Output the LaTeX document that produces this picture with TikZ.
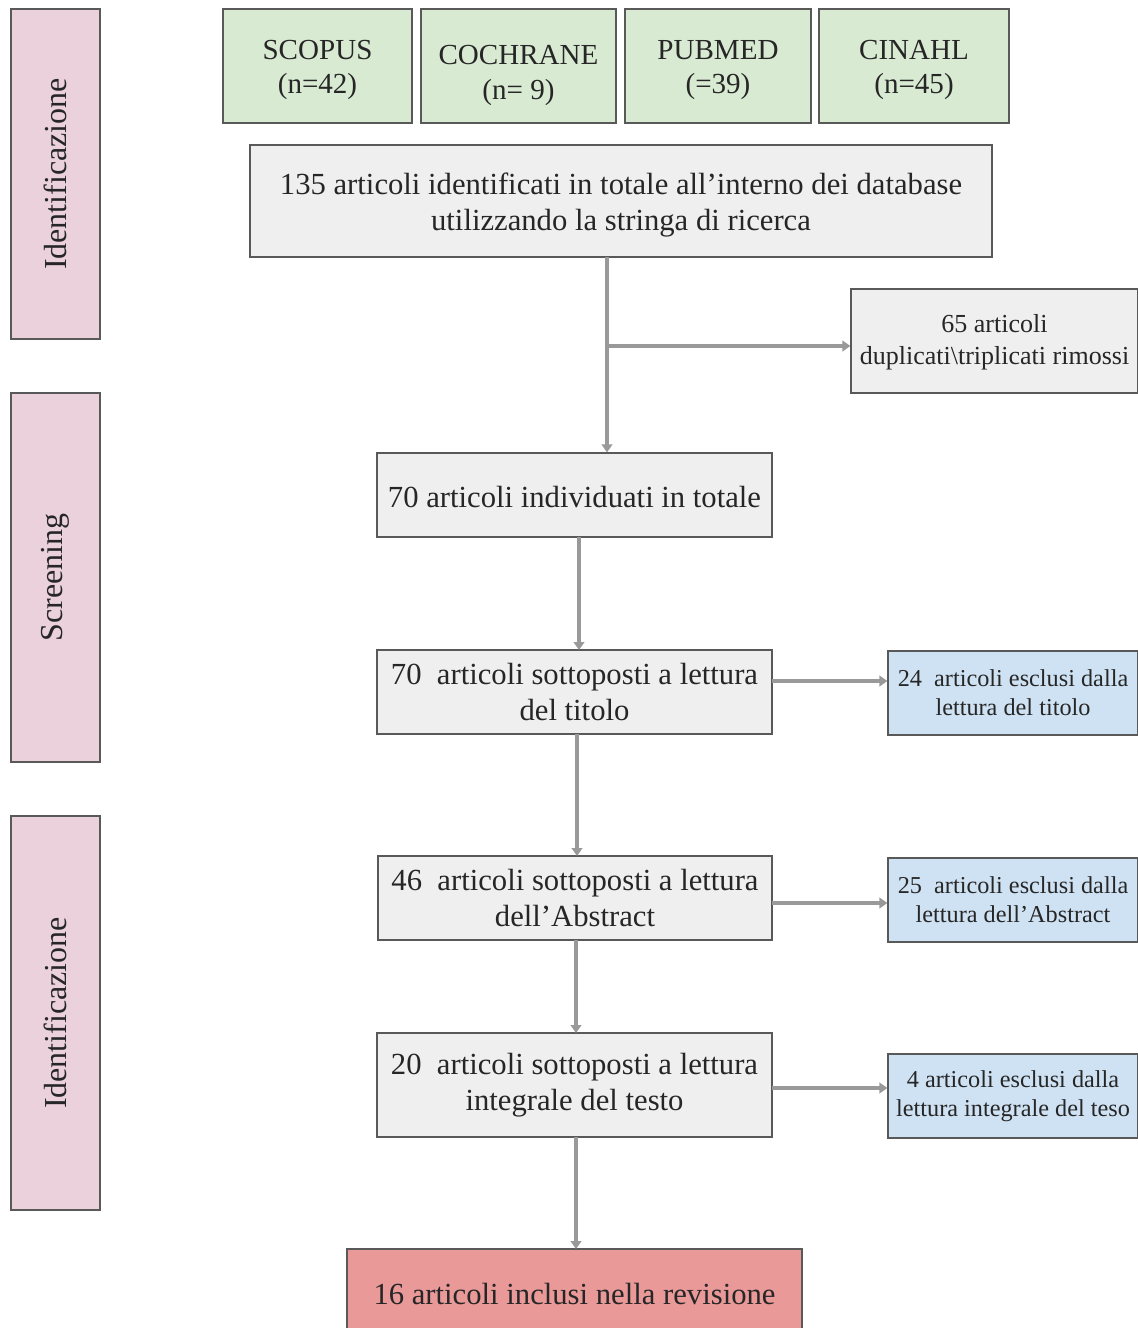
\documentclass[tikz,border=0pt]{standalone}
\usepackage{fontspec}
\setmainfont{Liberation Serif}
\usetikzlibrary{fit,arrows.meta}
\definecolor{pinkc}{HTML}{EAD1DC}
\definecolor{greenc}{HTML}{D9EAD3}
\definecolor{grayc}{HTML}{EFEFEF}
\definecolor{bluec}{HTML}{CFE2F3}
\definecolor{redc}{HTML}{EA9999}
\definecolor{linec}{HTML}{595959}
\definecolor{arrc}{HTML}{999999}
\tikzset{
  bx/.style={draw=linec, line width=0.9pt, inner sep=0pt, align=center, text=black!85},
  big/.style={font=\fontsize{23}{27}\selectfont, align=center, text=black!85},
  side/.style={font=\fontsize{24}{28}\selectfont, text=black!85},
  db/.style={font=\fontsize{21.8}{26}\selectfont, align=center, text=black!85},
  small/.style={font=\fontsize{19.5}{24}\selectfont, align=center, text=black!85},
  excl/.style={font=\fontsize{18.2}{22}\selectfont, align=center, text=black!85},
  conn/.style={draw=arrc, line width=3pt, -{Triangle[length=6pt,width=8pt]}},
  connb/.style={draw=arrc, line width=3.6pt},
}
\begin{document}
\begin{tikzpicture}[x=0.75pt,y=-0.75pt]
\useasboundingbox (0,0) rectangle (1138,1328);
% side boxes
\node[bx, fill=pinkc, fit={(11,9)(100,339)}] (s1) {};
\node[rotate=90, side] at (s1.center) (s1t) {Identificazione};
\node[bx, fill=pinkc, fit={(11,393)(100,762)}] (s2) {};
\node[rotate=90, side] at (s2.center) (s2t) {Screening};
\node[bx, fill=pinkc, fit={(11,816)(100,1210)}] (s3) {};
\node[rotate=90, side] at (s3.center) (s3t) {Identificazione};
% databases
\node[bx, fill=greenc, fit={(223,9)(412,123)}] (d1) {};
\node[db] at ([yshift=-3pt]d1.center) (d1t) {SCOPUS\\(n=42)};
\node[bx, fill=greenc, fit={(421,9)(616,123)}] (d2) {};
\node[db] at ([yshift=-7pt]d2.center) (d2t) {COCHRANE\\(n= 9)};
\node[bx, fill=greenc, fit={(625,9)(811,123)}] (d3) {};
\node[db] at ([yshift=-3pt]d3.center) (d3t) {PUBMED\\(=39)};
\node[bx, fill=greenc, fit={(819,9)(1009,123)}] (d4) {};
\node[db] at ([yshift=-3pt]d4.center) (d4t) {CINAHL\\(n=45)};
% main flow
\node[bx, fill=grayc, fit={(250,145)(992,257)}] (m1) {};
\node[big] at ([yshift=-3pt]m1.center) (m1t) {135 articoli identificati in totale all’interno dei database\\utilizzando la stringa di ricerca};
\node[bx, fill=grayc, fit={(851,289)(1138,393)}] (dup) {};
\node[small] at ([yshift=-1pt]dup.center) (dupt) {65 articoli\\duplicati\textbackslash triplicati rimossi};
\node[bx, fill=grayc, fit={(377,453)(772,537)}] (m2) {};
\node[big] at ([yshift=-1.5pt]m2.center) (m2t) {70 articoli individuati in totale};
\node[bx, fill=grayc, fit={(377,650)(772,734)}] (m3) {};
\node[big] at (m3.center) (m3t) {70\ \ articoli sottoposti a lettura\\del titolo};
\node[bx, fill=bluec, fit={(888,651)(1138,735)}] (e1) {};
\node[excl] at (e1.center) (e1t) {24\ \ articoli esclusi dalla\\lettura del titolo};
\node[bx, fill=grayc, fit={(378,856)(772,940)}] (m4) {};
\node[big] at (m4.center) (m4t) {46\ \ articoli sottoposti a lettura\\dell’Abstract};
\node[bx, fill=bluec, fit={(888,858)(1138,942)}] (e2) {};
\node[excl] at (e2.center) (e2t) {25\ \ articoli esclusi dalla\\lettura dell’Abstract};
\node[bx, fill=grayc, fit={(377,1033)(772,1137)}] (m5) {};
\node[big] at (m5.center) (m5t) {20\ \ articoli sottoposti a lettura\\integrale del testo};
\node[bx, fill=bluec, fit={(888,1054)(1138,1138)}] (e3) {};
\node[excl] at (e3.center) (e3t) {4 articoli esclusi dalla\\lettura integrale del teso};
\node[bx, fill=redc, fit={(347,1249)(802,1330)}] (fin) {};
\node[big] at ([yshift=-3pt]fin.center) (fint) {16 articoli inclusi nella revisione};
% connectors
\coordinate (j1) at (607,346);
\draw[connb] (607,257) -- (607,346);
\draw[conn, line width=3.6pt] (j1) -- (dup.west |- j1);
\draw[conn, line width=3.6pt] (j1) -- (m2.north -| j1);
\draw[conn] (579,537) -- (579,650);
\draw[conn] (577,734) -- (577,856);
\draw[conn] (576,940) -- (576,1033);
\draw[conn] (576,1137) -- (576,1249);
\draw[conn] (772,681) -- (e1.west |- 0,681);
\draw[conn] (772,903) -- (e2.west |- 0,903);
\draw[conn] (772,1088) -- (e3.west |- 0,1088);
\end{tikzpicture}
\end{document}
